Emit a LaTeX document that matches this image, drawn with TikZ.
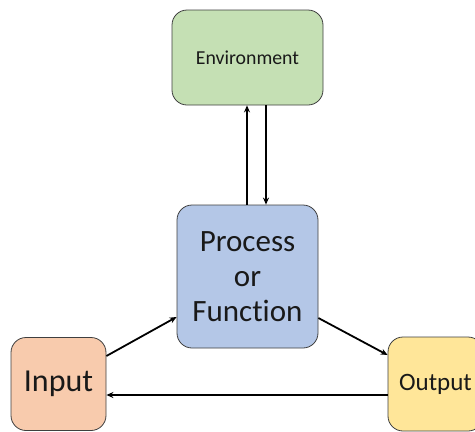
\documentclass[tikz,border=0pt]{standalone}
\usepackage{fontspec}
\setmainfont{Carlito}[Ligatures={NoCommon}]
\usepackage{tikz}
\usetikzlibrary{arrows.meta}
\usetikzlibrary{positioning}
\definecolor{envgreen}{HTML}{C5E0B4}
\definecolor{procblue}{HTML}{B4C7E7}
\definecolor{inorange}{HTML}{F8CBAD}
\definecolor{outyellow}{HTML}{FFE699}
\definecolor{boxline}{HTML}{3F3F3F}
\tikzset{
    block/.style={
        draw=boxline,
        rounded corners=15pt,
        line width=0.8pt,
        align=center,
        inner sep=0pt,
        text=black!90
    },
    flow/.style={
        draw,
        -{Stealth[length=7pt, width=6pt]},
        line width=1.8pt
    }
}

\begin{document}
\begin{tikzpicture}[x=1pt, y=-1pt]
  \useasboundingbox (0,0) rectangle (475,432);
  \clip (0,0) rectangle (475,432);

  % Boxes
  \node[block, fill=envgreen, minimum width=151pt, minimum height=95pt,
        font=\fontsize{19.8}{23}\selectfont] (env) at (247.5,57.5) {Environment};
  \node[block, fill=procblue, minimum width=141pt, minimum height=143pt,
        font=\fontsize{31}{35}\selectfont] (proc) at (247.5,276.5) {Process\\or\\Function};
  \node[block, fill=inorange, minimum width=95pt, minimum height=93pt,
        font=\fontsize{32}{36}\selectfont] (in) at (58.5,384) {Input};
  \node[block, fill=outyellow, minimum width=95pt, minimum height=94pt,
        font=\fontsize{25}{28}\selectfont] (out) at (435.5,384) {Output};

  % Arrows
  \draw[flow] (proc.north -| 247,0) -- (env.south -| 247,0);
  \draw[flow] (env.south -| 266,0) -- (proc.north -| 266,0);
  \draw[flow] (in.east |- 0,356) -- (proc.west |- 0,317);
  \draw[flow] (proc.east |- 0,318) -- (out.west |- 0,355);
  \draw[flow] (out.west |- 0,395) -- (in.east |- 0,395);
\end{tikzpicture}
\end{document}
